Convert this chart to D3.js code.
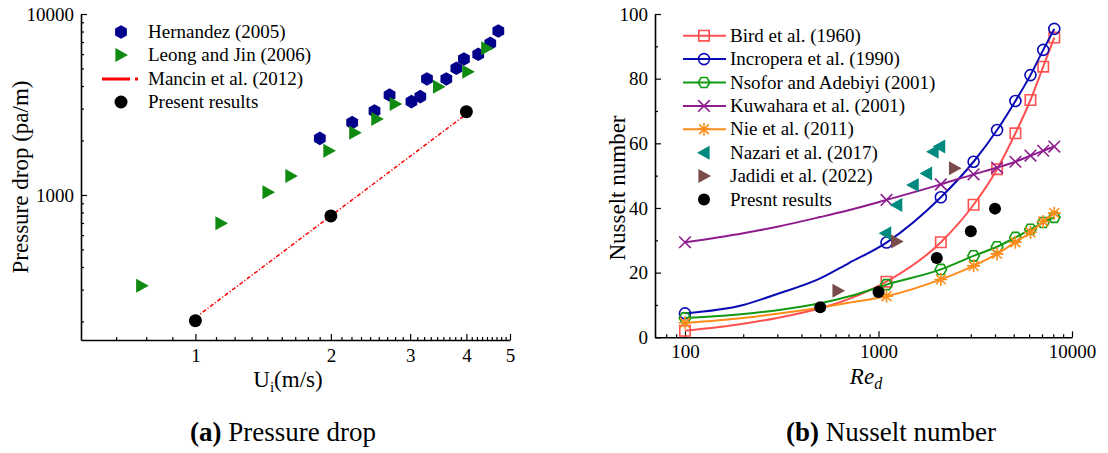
<!DOCTYPE html>
<html>
<head>
<meta charset="utf-8">
<script src="https://cdn.jsdelivr.net/npm/d3@7"></script>
<style>
body { margin: 0; background: #fff; }
svg text { fill: #000; }
</style>
</head>
<body>
<script>
// ---- (a) pressure drop ----
var hernU = [1.89, 2.23, 2.50, 2.70, 3.02, 3.16, 3.27, 3.61, 3.80, 3.95, 4.25, 4.52, 4.71];
var hernDp = [2056, 2510, 2911, 3566, 3280, 3493, 4375, 4375, 5010, 5640, 5990, 6885, 8055];
var leongU = [0.76, 1.14, 1.45, 1.63, 1.98, 2.26, 2.53, 2.78, 3.47, 4.03, 4.44];
var leongDp = [315, 697, 1034, 1273, 1758, 2210, 2630, 3183, 3968, 4800, 6460];
var mancinU = [1, 4];
var mancinDp = [210, 2800];
var presU = [1, 2, 4];
var presDp = [202, 766, 2887];
var xTicksA = [1, 2, 3, 4, 5];
var yTicksA = [1000, 10000];

// ---- (b) Nusselt number ----
var reLine = [100, 200, 300, 500, 700, 1100, 2100, 3100, 4100, 5100, 6100, 7100, 8100];
var reMarks = [100, 1100, 2100, 3100, 4100, 5100, 6100, 7100, 8100];
var birdNu = [2.0, 4.2, 6.0, 9.0, 11.8, 17.2, 29.4, 41.0, 52.0, 63.1, 73.4, 83.7, 92.7];
var incroNu = [7.4, 10.0, 13.4, 18.2, 22.9, 29.3, 43.3, 54.3, 64.1, 73.1, 81.1, 88.9, 95.4];
var nsoforNu = [6.0, 7.2, 8.4, 10.5, 12.6, 16.3, 21.0, 25.2, 28.0, 30.9, 33.4, 35.5, 37.1];
var kuwaNu = [29.4, 32.2, 34.2, 37.2, 39.3, 42.5, 47.3, 50.4, 52.5, 54.3, 56.2, 57.7, 59.0];
var nieNu = [4.5, 6.0, 7.3, 9.2, 10.7, 12.7, 17.9, 22.1, 25.8, 29.4, 32.5, 35.8, 38.4];
var nazRe = [1089, 1242, 1510, 1771, 1914, 2070];
var nazNu = [32.2, 40.9, 47.1, 50.7, 57.4, 59.0];
var jadRe = [618, 1242, 2472];
var jadNu = [14.4, 29.6, 52.3];
var presRe = [500, 1000, 2000, 3000, 4000];
var presNu = [9.3, 14.0, 24.5, 32.8, 39.8];
var xTicksB = [100, 1000, 10000];
var yTicksB = [0, 20, 40, 60, 80, 100];

var FONT = "Liberation Serif, Times New Roman, Times, Nimbus Roman, FreeSerif, DejaVu Serif, Noto Serif, serif";

var svg = d3.select("body").append("svg")
    .attr("width", 1108)
    .attr("height", 453)
    .style("font-family", FONT);

svg.append("rect").attr("width", 1108).attr("height", 453).attr("fill", "#fff");

// marker shapes
function hexPath(r, rot) {
    var p = d3.path();
    for (var k = 0; k < 6; k++) {
        var a = (rot + 60 * k) * Math.PI / 180;
        if (k == 0) p.moveTo(r * Math.cos(a), r * Math.sin(a));
        else p.lineTo(r * Math.cos(a), r * Math.sin(a));
    }
    p.closePath();
    return p.toString();
}
function triRight(s) {
    return "M" + (-0.8 * s) + "," + (-s) + "L" + s + ",0L" + (-0.8 * s) + "," + s + "Z";
}
function triLeft(s) {
    return "M" + (0.8 * s) + "," + (-s) + "L" + (-s) + ",0L" + (0.8 * s) + "," + s + "Z";
}
function squarePath(s) {
    return "M" + (-s) + "," + (-s) + "h" + (2 * s) + "v" + (2 * s) + "h" + (-2 * s) + "Z";
}
function crossPath(s) {
    return "M" + (-s) + "," + (-s) + "L" + s + "," + s + "M" + (-s) + "," + s + "L" + s + "," + (-s);
}
function starPath(s) {
    var d = s * 0.75;
    return "M" + (-s) + ",0H" + s + "M0," + (-s) + "V" + s +
        "M" + (-d) + "," + (-d) + "L" + d + "," + d + "M" + (-d) + "," + d + "L" + d + "," + (-d);
}

function zip(xs, ys) {
    return xs.map(function (x, i) { return {x: x, y: ys[i]}; });
}

function styleAxis(g) {
    g.attr("font-family", null);
    g.select(".domain").attr("stroke", "#000").attr("stroke-width", 1.6);
    g.selectAll(".tick line").attr("stroke", "#000").attr("stroke-width", 1.2);
    g.selectAll("text").style("font-size", "19px").style("font-family", FONT).attr("fill", "#000");
}

// ================= panel (a) =================
var xA = d3.scaleLog().domain([0.557, 5]).range([81, 510]);
var yA = d3.scaleLog().domain([158, 10000]).range([340, 14]);

// minor ticks: 8 per unit on x, standard log on y
var xMinorA = [];
for (var k = 1; k <= 4; k++) xMinorA.push(1 - k / 9);
for (var m = 1; m < 5; m++) for (k = 1; k <= 8; k++) xMinorA.push(m + k / 9);
xMinorA = xMinorA.filter(function (v) { return v >= 0.557 && v <= 5; });
var yMinorA = [];
[100, 1000].forEach(function (d) {
    for (var k = 2; k <= 9; k++) yMinorA.push(d * k);
});
yMinorA = yMinorA.filter(function (v) { return v >= 158 && v <= 10000; });

svg.append("g").attr("transform", "translate(0,340)")
    .call(d3.axisBottom(xA).tickValues(xMinorA).tickSize(-3).tickFormat(""))
    .call(function (g) { g.select(".domain").remove(); styleAxis(g); });
svg.append("g").attr("transform", "translate(0,340)")
    .call(d3.axisBottom(xA).tickValues(xTicksA).tickSize(-6).tickSizeOuter(0).tickPadding(9)
        .tickFormat(d3.format("d")))
    .call(styleAxis);
svg.append("g").attr("transform", "translate(81,0)")
    .call(d3.axisLeft(yA).tickValues(yMinorA).tickSize(-3).tickFormat(""))
    .call(function (g) { g.select(".domain").remove(); styleAxis(g); });
svg.append("g").attr("transform", "translate(81,0)")
    .call(d3.axisLeft(yA).tickValues(yTicksA).tickSize(-6).tickSizeOuter(0).tickPadding(7)
        .tickFormat(d3.format("d")))
    .call(styleAxis);

// Mancin line
svg.append("path")
    .datum(zip(mancinU, mancinDp))
    .attr("fill", "none")
    .attr("stroke", "#ff0000")
    .attr("stroke-width", 1.5)
    .attr("stroke-dasharray", "4,2,1.2,2")
    .attr("d", d3.line().x(function (d) { return xA(d.x); }).y(function (d) { return yA(d.y); }));

svg.selectAll(".hern")
    .data(zip(hernU, hernDp))
    .enter().append("path")
    .attr("transform", function (d) { return "translate(" + xA(d.x) + "," + yA(d.y) + ")"; })
    .attr("d", hexPath(6.8, -90))
    .attr("fill", "#00008b");

svg.selectAll(".leong")
    .data(zip(leongU, leongDp))
    .enter().append("path")
    .attr("transform", function (d) { return "translate(" + xA(d.x) + "," + yA(d.y) + ")"; })
    .attr("d", triRight(7))
    .attr("fill", "#108a10");

svg.selectAll(".presA")
    .data(zip(presU, presDp))
    .enter().append("circle")
    .attr("cx", function (d) { return xA(d.x); })
    .attr("cy", function (d) { return yA(d.y); })
    .attr("r", 6.5)
    .attr("fill", "#000");

// legend (a)
var legA = svg.append("g");
var legAy = [32, 55, 79, 102];
legA.append("path").attr("transform", "translate(121," + legAy[0] + ")").attr("d", hexPath(6.8, -90)).attr("fill", "#00008b");
legA.append("path").attr("transform", "translate(121," + legAy[1] + ")").attr("d", triRight(7)).attr("fill", "#108a10");
legA.append("line").attr("x1", 102).attr("x2", 141).attr("y1", legAy[2]).attr("y2", legAy[2])
    .attr("stroke", "#ff0000").attr("stroke-width", 3).attr("stroke-dasharray", "28,5,3,5");
legA.append("circle").attr("cx", 121).attr("cy", legAy[3]).attr("r", 6.5).attr("fill", "#000");
["Hernandez (2005)", "Leong and Jin (2006)", "Mancin et al. (2012)", "Present results"].forEach(function (t, i) {
    legA.append("text").attr("x", 148).attr("y", legAy[i] + 6).style("font-size", "19px").text(t);
});

// axis titles (a)
svg.append("text")
    .attr("transform", "translate(28,177) rotate(-90)")
    .attr("text-anchor", "middle")
    .style("font-size", "23px")
    .text("Pressure drop (pa/m)");
var ut = svg.append("text").attr("x", 288).attr("y", 387).attr("text-anchor", "middle").style("font-size", "23px");
ut.append("tspan").text("U");
ut.append("tspan").attr("dy", 5).style("font-size", "15px").text("i");
ut.append("tspan").attr("dy", -5).text("(m/s)");

// ================= panel (b) =================
var xB = d3.scaleLog().domain([70, 10000]).range([655, 1072]);
var yB = d3.scaleLinear().domain([0, 100]).range([337.3, 14]);

var xMinorB = [];
[10, 100, 1000].forEach(function (d) {
    for (var k = 2; k <= 9; k++) xMinorB.push(d * k);
});
xMinorB = xMinorB.filter(function (v) { return v >= 70 && v <= 10000; });
var yMinorB = [10, 30, 50, 70, 90];

svg.append("g").attr("transform", "translate(0,337.3)")
    .call(d3.axisBottom(xB).tickValues(xMinorB).tickSize(-3).tickFormat(""))
    .call(function (g) { g.select(".domain").remove(); styleAxis(g); });
svg.append("g").attr("transform", "translate(0,337.3)")
    .call(d3.axisBottom(xB).tickValues(xTicksB).tickSize(-6).tickSizeOuter(0).tickPadding(7)
        .tickFormat(d3.format("d")))
    .call(styleAxis);
svg.append("g").attr("transform", "translate(655,0)")
    .call(d3.axisLeft(yB).tickValues(yMinorB).tickSize(-3).tickFormat(""))
    .call(function (g) { g.select(".domain").remove(); styleAxis(g); });
svg.append("g").attr("transform", "translate(655,0)")
    .call(d3.axisLeft(yB).tickValues(yTicksB).tickSize(-6).tickSizeOuter(0).tickPadding(7))
    .call(styleAxis);

var curves = [
    {name: "Bird et al. (1960)", nu: birdNu, color: "#ff5050", shape: squarePath(5.2)},
    {name: "Incropera et al. (1990)", nu: incroNu, color: "#0a0ab4", shape: d3.symbol(d3.symbolCircle, 95)()},
    {name: "Nsofor and Adebiyi (2001)", nu: nsoforNu, color: "#129912", shape: hexPath(5.8, 0)},
    {name: "Kuwahara et al. (2001)", nu: kuwaNu, color: "#8e1c8e", shape: crossPath(5.8)},
    {name: "Nie et al. (2011)", nu: nieNu, color: "#ff8c1a", shape: starPath(6.5)}
];

var lineB = d3.line()
    .x(function (d) { return xB(d.x); })
    .y(function (d) { return yB(d.y); })
    .curve(d3.curveMonotoneX);

curves.forEach(function (c) {
    var pts = zip(reLine, c.nu);
    svg.append("path").datum(pts)
        .attr("fill", "none")
        .attr("stroke", c.color)
        .attr("stroke-width", 2)
        .attr("d", lineB);
    svg.selectAll(null)
        .data(pts.filter(function (d) { return reMarks.indexOf(d.x) >= 0; }))
        .enter().append("path")
        .attr("transform", function (d) { return "translate(" + xB(d.x) + "," + yB(d.y) + ")"; })
        .attr("d", c.shape)
        .attr("fill", "none")
        .attr("stroke", c.color)
        .attr("stroke-width", 1.6);
});

svg.selectAll(".naz")
    .data(zip(nazRe, nazNu))
    .enter().append("path")
    .attr("transform", function (d) { return "translate(" + xB(d.x) + "," + yB(d.y) + ")"; })
    .attr("d", triLeft(7))
    .attr("fill", "#00897e");

svg.selectAll(".jad")
    .data(zip(jadRe, jadNu))
    .enter().append("path")
    .attr("transform", function (d) { return "translate(" + xB(d.x) + "," + yB(d.y) + ")"; })
    .attr("d", triRight(7))
    .attr("fill", "#7b4c4c");

svg.selectAll(".presB")
    .data(zip(presRe, presNu))
    .enter().append("circle")
    .attr("cx", function (d) { return xB(d.x); })
    .attr("cy", function (d) { return yB(d.y); })
    .attr("r", 6)
    .attr("fill", "#000");

// legend (b)
var legB = svg.append("g");
var legBy = d3.range(8).map(function (i) { return 35.7 + i * 23.4; });
curves.forEach(function (c, i) {
    legB.append("line").attr("x1", 683).attr("x2", 726).attr("y1", legBy[i]).attr("y2", legBy[i])
        .attr("stroke", c.color).attr("stroke-width", 2);
    legB.append("path").attr("transform", "translate(704," + legBy[i] + ")").attr("d", c.shape)
        .attr("fill", "none").attr("stroke", c.color).attr("stroke-width", 1.6);
});
legB.append("path").attr("transform", "translate(704," + legBy[5] + ")").attr("d", triLeft(7)).attr("fill", "#00897e");
legB.append("path").attr("transform", "translate(704," + legBy[6] + ")").attr("d", triRight(7)).attr("fill", "#7b4c4c");
legB.append("circle").attr("cx", 704).attr("cy", legBy[7]).attr("r", 6).attr("fill", "#000");
var legBnames = curves.map(function (c) { return c.name; })
    .concat(["Nazari et al. (2017)", "Jadidi et al. (2022)", "Presnt results"]);
legBnames.forEach(function (t, i) {
    legB.append("text").attr("x", 730).attr("y", legBy[i] + 6).style("font-size", "19px").text(t);
});

// axis titles (b)
svg.append("text")
    .attr("transform", "translate(625,188) rotate(-90)")
    .attr("text-anchor", "middle")
    .style("font-size", "23px")
    .text("Nusselt number");
var rt = svg.append("text").attr("x", 866).attr("y", 384).attr("text-anchor", "middle")
    .style("font-size", "23px").style("font-style", "italic");
rt.append("tspan").text("Re");
rt.append("tspan").attr("dy", 5).style("font-size", "16px").text("d");

// captions
var capA = svg.append("text").attr("x", 283).attr("y", 441).attr("text-anchor", "middle").style("font-size", "27px");
capA.append("tspan").style("font-weight", "bold").text("(a)");
capA.append("tspan").text(" Pressure drop");
var capB = svg.append("text").attr("x", 891).attr("y", 441).attr("text-anchor", "middle").style("font-size", "27px");
capB.append("tspan").style("font-weight", "bold").text("(b)");
capB.append("tspan").text(" Nusselt number");
</script>
</body>
</html>
